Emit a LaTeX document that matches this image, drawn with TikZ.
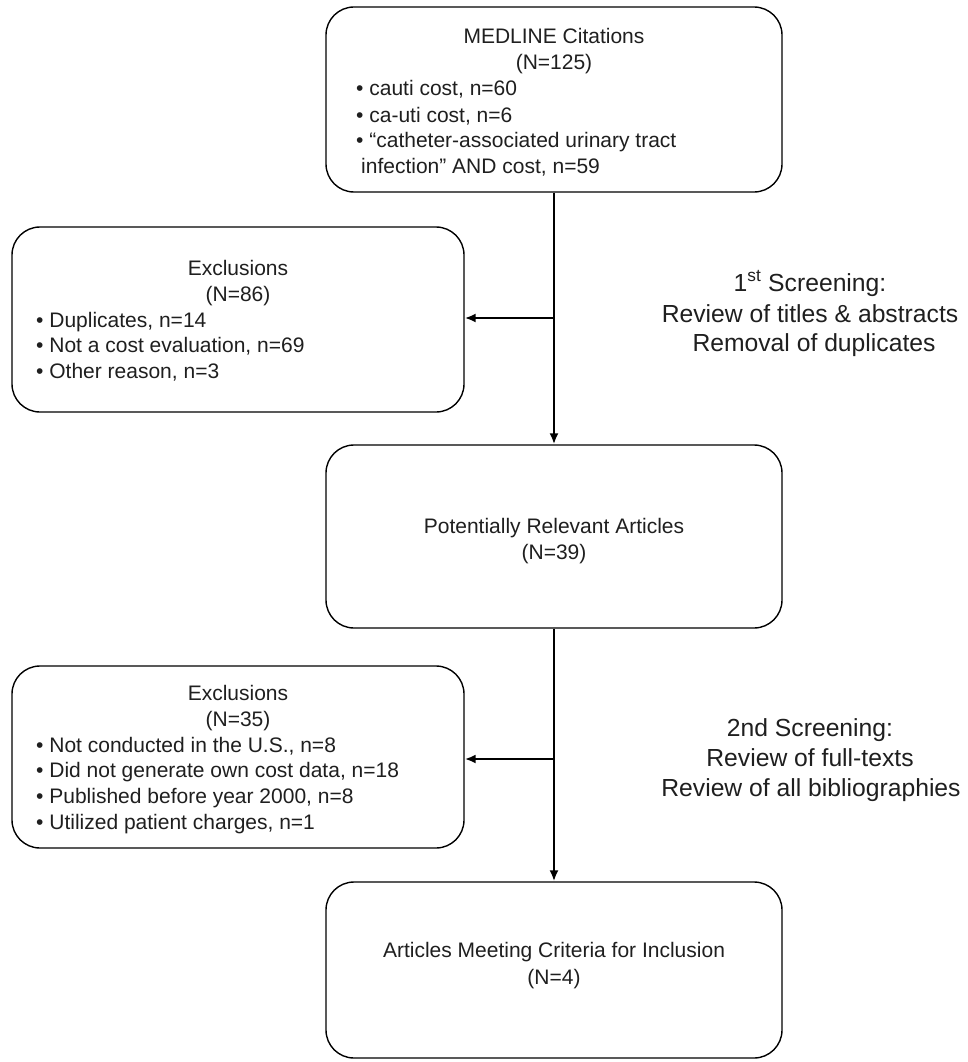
\documentclass[tikz,border=0pt]{standalone}
\usepackage{fontspec}
\setmainfont{Liberation Sans}
\usetikzlibrary{arrows.meta}
\begin{document}
\begin{tikzpicture}[x=1pt,y=-1pt,
  box/.style={draw=black, line width=1.4pt, rounded corners=28pt, inner sep=0pt},
  txt/.style={inner sep=0pt, font=\fontsize{21}{25.9}\selectfont, text=black!88},
  side/.style={inner sep=0pt, font=\fontsize{24.7}{30}\selectfont, text=black!88},
  link/.style={line width=2.4pt, -{Latex[length=11pt,width=9pt]}}]
\useasboundingbox (0,0) rectangle (968,1062);
\fill[white] (0,0) rectangle (968,1062);

% boxes
\node[box, minimum width=456pt, minimum height=185pt] (b1) at (554,99.5) {};
\node[box, minimum width=452pt, minimum height=185pt] (b2) at (238,319.5) {};
\node[box, minimum width=456pt, minimum height=183pt] (b3) at (554,536.5) {};
\node[box, minimum width=452pt, minimum height=182pt] (b4) at (238,757) {};
\node[box, minimum width=456pt, minimum height=176pt] (b5) at (554,970) {};

% connectors
\draw[link] (b1.south) -- (b3.north);
\draw[link] (b3.south) -- (b5.north);
\coordinate (j1) at (554,318);
\draw[link] (j1) -- (j1 -| b2.east);
\coordinate (j2) at (554,759);
\draw[link] (j2) -- (j2 -| b4.east);

% box 1 text
\node[txt, anchor=base] (t1a) at (554,44) {MEDLINE Citations};
\node[txt, anchor=base] (t1b) at (554,70) {(N=125)};
\node[txt, anchor=base west] (t1c) at (356,96) {• cauti cost, n=60};
\node[txt, anchor=base west] (t1d) at (356,122) {• ca-uti cost, n=6};
\node[txt, anchor=base west] (t1e) at (356,147) {• “catheter-associated urinary tract};
\node[txt, anchor=base west] (t1f) at (361,173) {infection” AND cost, n=59};

% box 2 text
\node[txt, anchor=base] (t2a) at (238,275) {Exclusions};
\node[txt, anchor=base] (t2b) at (238,301) {(N=86)};
\node[txt, anchor=base west] (t2c) at (36,327) {• Duplicates, n=14};
\node[txt, anchor=base west] (t2d) at (36,352.5) {• Not a cost evaluation, n=69};
\node[txt, anchor=base west] (t2e) at (36,378) {• Other reason, n=3};

% box 3 text
\node[txt, anchor=base] (t3a) at (554,533) {Potentially Relevant Articles};
\node[txt, anchor=base] (t3b) at (554,559) {(N=39)};

% box 4 text
\node[txt, anchor=base] (t4a) at (238,700) {Exclusions};
\node[txt, anchor=base] (t4b) at (238,726) {(N=35)};
\node[txt, anchor=base west] (t4c) at (36,752) {• Not conducted in the U.S., n=8};
\node[txt, anchor=base west] (t4d) at (36,777.5) {• Did not generate own cost data, n=18};
\node[txt, anchor=base west] (t4e) at (36,803) {• Published before year 2000, n=8};
\node[txt, anchor=base west] (t4f) at (36,829) {• Utilized patient charges, n=1};

% box 5 text
\node[txt, anchor=base] (t5a) at (554,957) {Articles Meeting Criteria for Inclusion};
\node[txt, anchor=base] (t5b) at (554,984) {(N=4)};

% side texts
\node[side, anchor=base] (s1a) at (810,291) {1\textsuperscript{st} Screening:};
\node[side, anchor=base] (s1b) at (810,322) {Review of titles \& abstracts};
\node[side, anchor=base] (s1c) at (814,351) {Removal of duplicates};
\node[side, anchor=base] (s2a) at (810,736) {2nd Screening:};
\node[side, anchor=base] (s2b) at (810,766) {Review of full-texts};
\node[side, anchor=base] (s2c) at (811,796) {Review of all bibliographies};
\end{tikzpicture}
\end{document}
